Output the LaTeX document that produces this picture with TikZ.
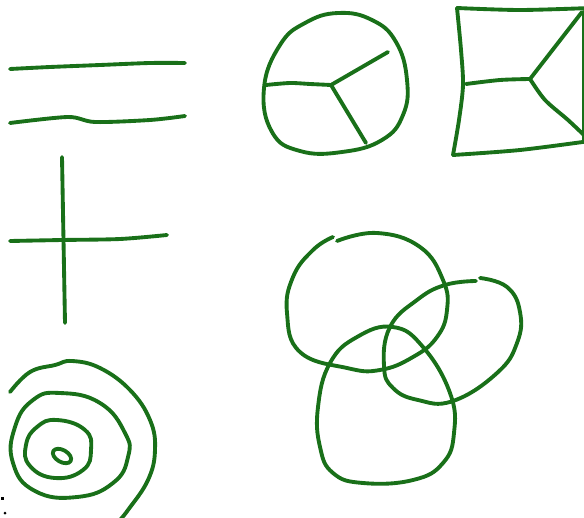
\documentclass[tikz,border=0pt]{standalone}
\usepackage{xcolor}
\usepackage{tikz}
\usetikzlibrary{arrows.meta, positioning}
\definecolor{penGreen}{RGB}{25,112,25}
\tikzset{
  pen/.style={draw=penGreen, line width=2.2pt, line cap=round, line join=round},
}

\begin{document}
\begin{tikzpicture}[x=0.02cm, y=-0.02cm]

\useasboundingbox (0,0) rectangle (584,517);

% Parallel lines
\draw[pen] plot[smooth] coordinates {(10,69) (50,67) (100,65) (150,63) (185,63)};
\draw[pen] plot[smooth] coordinates {(10,123) (68,117) (95,122) (150,120) (185,116)};

% Cross
\coordinate (crossTop) at (62,157);
\coordinate (crossBot) at (65,323);
\draw[pen] (crossTop) -- (crossBot);
\draw[pen] plot[smooth] coordinates {(10,241) (62,240) (120,239) (167,235)};

% Circle with three spokes
\coordinate (hub) at (331,85);
\draw[pen] plot[smooth cycle, tension=0.75] coordinates {(264,88) (280,45) (305,23) (338,13) (372,20) (396,42) (407,80) (403,115) (382,140) (342,152) (300,151) (272,132)};
\draw[pen] plot[smooth] coordinates {(266,85) (290,83) (310,84) (331,85)};
\draw[pen] (hub) -- (388,52);
\draw[pen] (hub) -- (366,143);

% Box with three spokes
\coordinate (boxHub) at (530,79);
\draw[pen] plot[smooth] coordinates {(457,8) (520,10) (590,8)};
\draw[pen] plot[smooth] coordinates {(457,8) (461,50) (463,85) (459,120) (453,155)};
\draw[pen] plot[smooth] coordinates {(453,155) (520,150) (590,141)};
\draw[pen] (584,12) -- (584,140);
\draw[pen] plot[smooth] coordinates {(466,84) (500,80) (530,79)};
\draw[pen] (boxHub) -- (582,12);
\draw[pen] plot[smooth] coordinates {(530,79) (545,100) (568,120) (586,137)};

% Concentric rings
\draw[pen] plot[smooth, tension=0.7] coordinates {(10,392) (30,372) (55,365) (72,361) (100,368) (130,390) (150,420) (155,450) (148,480) (128,510) (118,522)};
\draw[pen] plot[smooth cycle, tension=0.8] coordinates {(33,400) (60,393) (100,403) (125,433) (128,457) (113,483) (77,497) (35,491) (13,463) (15,427)};
\draw[pen] plot[smooth cycle, tension=0.8] coordinates {(57,420) (85,430) (91,450) (83,470) (55,478) (30,466) (26,445) (37,427)};
\draw[pen, rotate around={-30:(62,456)}] (62,456) ellipse (10 and 6);

% Overlapping loops
\draw[pen] plot[smooth, tension=0.75] coordinates {(337,241) (377,233) (420,247) (443,280) (447,310) (437,337) (413,357) (380,370) (347,368) (300,352) (287,313) (293,277) (313,250) (333,237)};
\draw[pen] plot[smooth, tension=0.75] coordinates {(480,278) (507,287) (520,312) (517,343) (497,373) (453,401) (418,400) (393,388) (384,366) (390,327) (417,300) (445,285) (476,281)};
\draw[pen] plot[smooth cycle, tension=0.75] coordinates {(393,327) (423,347) (450,393) (454,433) (443,463) (413,480) (363,483) (333,473) (320,447) (318,407) (330,363) (357,337)};

% Stray marks
\fill[black] (1,497) rectangle (4,500);
\fill[black] (5,513) circle (1.5);

\end{tikzpicture}
\end{document}
